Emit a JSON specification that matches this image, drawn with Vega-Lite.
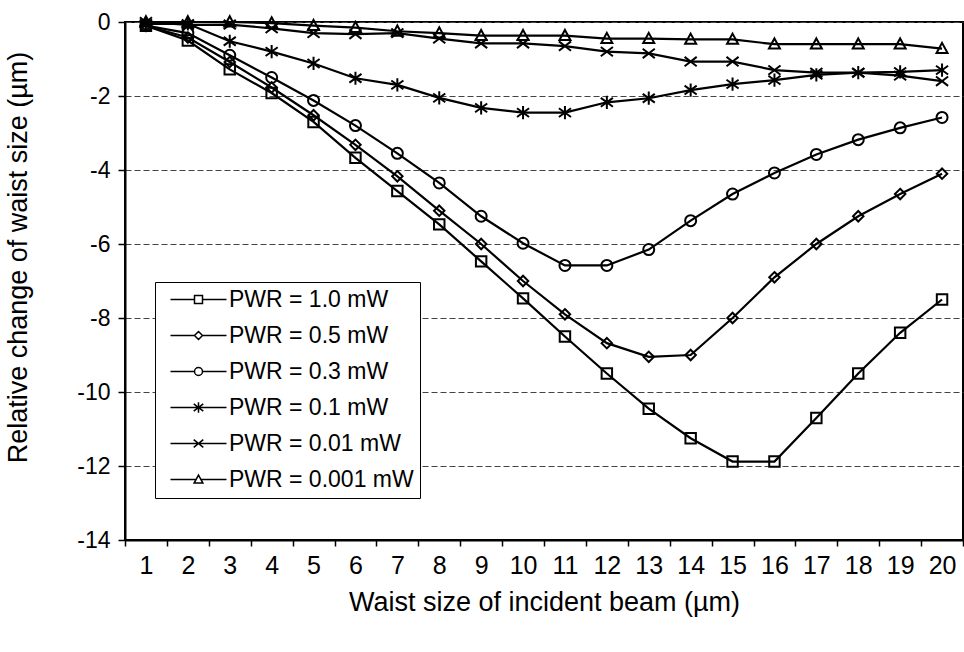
{
  "$schema": "https://vega.github.io/schema/vega-lite/v6.json",
  "width": 838,
  "height": 518,
  "autosize": "none",
  "padding": {"left": 125, "top": 22, "right": 1, "bottom": 112},
  "background": "white",
  "config": {
    "font": "Liberation Sans",
    "view": {"stroke": "black", "strokeWidth": 2}
  },
  "datasets": {
    "curves": [
      {"p":"PWR = 1.0 mW","x":1,"y":-0.1},{"p":"PWR = 1.0 mW","x":2,"y":-0.5},{"p":"PWR = 1.0 mW","x":3,"y":-1.28},{"p":"PWR = 1.0 mW","x":4,"y":-1.92},{"p":"PWR = 1.0 mW","x":5,"y":-2.7},{"p":"PWR = 1.0 mW","x":6,"y":-3.67},{"p":"PWR = 1.0 mW","x":7,"y":-4.57},{"p":"PWR = 1.0 mW","x":8,"y":-5.47},{"p":"PWR = 1.0 mW","x":9,"y":-6.47},{"p":"PWR = 1.0 mW","x":10,"y":-7.47},{"p":"PWR = 1.0 mW","x":11,"y":-8.5},{"p":"PWR = 1.0 mW","x":12,"y":-9.5},{"p":"PWR = 1.0 mW","x":13,"y":-10.45},{"p":"PWR = 1.0 mW","x":14,"y":-11.25},{"p":"PWR = 1.0 mW","x":15,"y":-11.88},{"p":"PWR = 1.0 mW","x":16,"y":-11.88},{"p":"PWR = 1.0 mW","x":17,"y":-10.7},{"p":"PWR = 1.0 mW","x":18,"y":-9.5},{"p":"PWR = 1.0 mW","x":19,"y":-8.4},{"p":"PWR = 1.0 mW","x":20,"y":-7.5},
      {"p":"PWR = 0.5 mW","x":1,"y":-0.1},{"p":"PWR = 0.5 mW","x":2,"y":-0.42},{"p":"PWR = 0.5 mW","x":3,"y":-1.08},{"p":"PWR = 0.5 mW","x":4,"y":-1.77},{"p":"PWR = 0.5 mW","x":5,"y":-2.52},{"p":"PWR = 0.5 mW","x":6,"y":-3.32},{"p":"PWR = 0.5 mW","x":7,"y":-4.17},{"p":"PWR = 0.5 mW","x":8,"y":-5.1},{"p":"PWR = 0.5 mW","x":9,"y":-6.0},{"p":"PWR = 0.5 mW","x":10,"y":-7.0},{"p":"PWR = 0.5 mW","x":11,"y":-7.9},{"p":"PWR = 0.5 mW","x":12,"y":-8.68},{"p":"PWR = 0.5 mW","x":13,"y":-9.05},{"p":"PWR = 0.5 mW","x":14,"y":-9.0},{"p":"PWR = 0.5 mW","x":15,"y":-8.0},{"p":"PWR = 0.5 mW","x":16,"y":-6.9},{"p":"PWR = 0.5 mW","x":17,"y":-6.0},{"p":"PWR = 0.5 mW","x":18,"y":-5.25},{"p":"PWR = 0.5 mW","x":19,"y":-4.65},{"p":"PWR = 0.5 mW","x":20,"y":-4.1},
      {"p":"PWR = 0.3 mW","x":1,"y":-0.1},{"p":"PWR = 0.3 mW","x":2,"y":-0.3},{"p":"PWR = 0.3 mW","x":3,"y":-0.9},{"p":"PWR = 0.3 mW","x":4,"y":-1.5},{"p":"PWR = 0.3 mW","x":5,"y":-2.12},{"p":"PWR = 0.3 mW","x":6,"y":-2.8},{"p":"PWR = 0.3 mW","x":7,"y":-3.55},{"p":"PWR = 0.3 mW","x":8,"y":-4.35},{"p":"PWR = 0.3 mW","x":9,"y":-5.25},{"p":"PWR = 0.3 mW","x":10,"y":-5.98},{"p":"PWR = 0.3 mW","x":11,"y":-6.58},{"p":"PWR = 0.3 mW","x":12,"y":-6.58},{"p":"PWR = 0.3 mW","x":13,"y":-6.15},{"p":"PWR = 0.3 mW","x":14,"y":-5.37},{"p":"PWR = 0.3 mW","x":15,"y":-4.65},{"p":"PWR = 0.3 mW","x":16,"y":-4.08},{"p":"PWR = 0.3 mW","x":17,"y":-3.58},{"p":"PWR = 0.3 mW","x":18,"y":-3.18},{"p":"PWR = 0.3 mW","x":19,"y":-2.86},{"p":"PWR = 0.3 mW","x":20,"y":-2.58},
      {"p":"PWR = 0.1 mW","x":1,"y":-0.05},{"p":"PWR = 0.1 mW","x":2,"y":-0.05},{"p":"PWR = 0.1 mW","x":3,"y":-0.52},{"p":"PWR = 0.1 mW","x":4,"y":-0.8},{"p":"PWR = 0.1 mW","x":5,"y":-1.12},{"p":"PWR = 0.1 mW","x":6,"y":-1.52},{"p":"PWR = 0.1 mW","x":7,"y":-1.7},{"p":"PWR = 0.1 mW","x":8,"y":-2.05},{"p":"PWR = 0.1 mW","x":9,"y":-2.32},{"p":"PWR = 0.1 mW","x":10,"y":-2.45},{"p":"PWR = 0.1 mW","x":11,"y":-2.45},{"p":"PWR = 0.1 mW","x":12,"y":-2.17},{"p":"PWR = 0.1 mW","x":13,"y":-2.06},{"p":"PWR = 0.1 mW","x":14,"y":-1.84},{"p":"PWR = 0.1 mW","x":15,"y":-1.68},{"p":"PWR = 0.1 mW","x":16,"y":-1.57},{"p":"PWR = 0.1 mW","x":17,"y":-1.43},{"p":"PWR = 0.1 mW","x":18,"y":-1.37},{"p":"PWR = 0.1 mW","x":19,"y":-1.35},{"p":"PWR = 0.1 mW","x":20,"y":-1.3},
      {"p":"PWR = 0.01 mW","x":1,"y":0},{"p":"PWR = 0.01 mW","x":2,"y":-0.08},{"p":"PWR = 0.01 mW","x":3,"y":-0.07},{"p":"PWR = 0.01 mW","x":4,"y":-0.17},{"p":"PWR = 0.01 mW","x":5,"y":-0.3},{"p":"PWR = 0.01 mW","x":6,"y":-0.33},{"p":"PWR = 0.01 mW","x":7,"y":-0.3},{"p":"PWR = 0.01 mW","x":8,"y":-0.45},{"p":"PWR = 0.01 mW","x":9,"y":-0.58},{"p":"PWR = 0.01 mW","x":10,"y":-0.58},{"p":"PWR = 0.01 mW","x":11,"y":-0.65},{"p":"PWR = 0.01 mW","x":12,"y":-0.8},{"p":"PWR = 0.01 mW","x":13,"y":-0.85},{"p":"PWR = 0.01 mW","x":14,"y":-1.07},{"p":"PWR = 0.01 mW","x":15,"y":-1.07},{"p":"PWR = 0.01 mW","x":16,"y":-1.3},{"p":"PWR = 0.01 mW","x":17,"y":-1.37},{"p":"PWR = 0.01 mW","x":18,"y":-1.37},{"p":"PWR = 0.01 mW","x":19,"y":-1.45},{"p":"PWR = 0.01 mW","x":20,"y":-1.6},
      {"p":"PWR = 0.001 mW","x":1,"y":0},{"p":"PWR = 0.001 mW","x":2,"y":0},{"p":"PWR = 0.001 mW","x":3,"y":0},{"p":"PWR = 0.001 mW","x":4,"y":-0.03},{"p":"PWR = 0.001 mW","x":5,"y":-0.1},{"p":"PWR = 0.001 mW","x":6,"y":-0.15},{"p":"PWR = 0.001 mW","x":7,"y":-0.25},{"p":"PWR = 0.001 mW","x":8,"y":-0.3},{"p":"PWR = 0.001 mW","x":9,"y":-0.37},{"p":"PWR = 0.001 mW","x":10,"y":-0.37},{"p":"PWR = 0.001 mW","x":11,"y":-0.37},{"p":"PWR = 0.001 mW","x":12,"y":-0.45},{"p":"PWR = 0.001 mW","x":13,"y":-0.45},{"p":"PWR = 0.001 mW","x":14,"y":-0.47},{"p":"PWR = 0.001 mW","x":15,"y":-0.47},{"p":"PWR = 0.001 mW","x":16,"y":-0.6},{"p":"PWR = 0.001 mW","x":17,"y":-0.6},{"p":"PWR = 0.001 mW","x":18,"y":-0.6},{"p":"PWR = 0.001 mW","x":19,"y":-0.6},{"p":"PWR = 0.001 mW","x":20,"y":-0.72}
    ]
  },
  "data": {"name": "curves"},
  "encoding": {
    "x": {
      "field": "x", "type": "ordinal", "bandPosition": 0.5,
      "scale": {"type": "band", "paddingInner": 0, "paddingOuter": 0},
      "axis": {
        "title": "Waist size of incident beam (\u00b5m)", "labelAngle": 0,
        "tickBand": "extent", "grid": false,
        "domainColor": "black", "domainWidth": 2, "tickColor": "black", "tickWidth": 1.5, "tickSize": 6,
        "labelFontSize": 25, "labelColor": "black", "labelPadding": 7,
        "titleFontSize": 27, "titleFontWeight": "normal", "titleColor": "black", "titlePadding": 11
      }
    },
    "y": {
      "field": "y", "type": "quantitative",
      "scale": {"domain": [-14, 0], "nice": false, "zero": false},
      "axis": {
        "title": "Relative change of waist size (\u00b5m)", "values": [-14, -12, -10, -8, -6, -4, -2, 0],
        "labelExpr": "replace(datum.label, '\u2212', '-')",
        "grid": true, "gridColor": "#444", "gridDash": [6, 3], "gridWidth": 1,
        "domainColor": "black", "domainWidth": 2, "tickColor": "black", "tickWidth": 1.5, "tickSize": 7,
        "labelFontSize": 23, "labelColor": "black", "labelPadding": 8,
        "titleFontSize": 27, "titleFontWeight": "normal", "titleColor": "black", "titlePadding": 44, "titleY": 235
      }
    }
  },
  "layer": [
    {
      "mark": {"type": "line", "color": "black", "strokeWidth": 2.2},
      "encoding": {"detail": {"field": "p"}}
    },
    {
      "mark": {"type": "point", "filled": false, "color": "black", "strokeWidth": 2, "size": 121, "opacity": 1},
      "encoding": {
        "shape": {
          "field": "p", "type": "nominal",
          "scale": {
            "domain": ["PWR = 1.0 mW", "PWR = 0.5 mW", "PWR = 0.3 mW", "PWR = 0.1 mW", "PWR = 0.01 mW", "PWR = 0.001 mW"],
            "range": [
              "M-0.95,-0.95H0.95V0.95H-0.95Z",
              "M0,-0.95L0.95,0L0,0.95L-0.95,0Z",
              "M-1,0A1,1 0 1,1 1,0A1,1 0 1,1 -1,0Z",
              "M-1.1,-0.8L1.1,0.8M-1.1,0.8L1.1,-0.8M0,-1.2V1.2",
              "M-1.1,-0.85L1.1,0.85M-1.1,0.85L1.1,-0.85",
              "M0,-1.05L1,0.8H-1Z"
            ]
          },
          "legend": null
        }
      }
    },
    {
      "transform": [{"filter": "datum.x > 100"}],
      "mark": {"type": "point", "filled": false, "color": "black", "strokeWidth": 1.5, "size": 64, "opacity": 1},
      "encoding": {
        "shape": {
          "field": "p", "type": "nominal",
          "scale": {
            "domain": ["PWR = 1.0 mW", "PWR = 0.5 mW", "PWR = 0.3 mW", "PWR = 0.1 mW", "PWR = 0.01 mW", "PWR = 0.001 mW"],
            "range": [
              "M-7,0H-1M1,0H7M-1,-1H1V1H-1Z",
              "M-7,0H-1M1,0H7M0,-1L1,0L0,1L-1,0Z",
              "M-7,0H-1M1,0H7M-1,0A1,1 0 1,1 1,0A1,1 0 1,1 -1,0Z",
              "M-7,0H7M-1.2,-0.9L1.2,0.9M-1.2,0.9L1.2,-0.9M0,-1.3V1.3",
              "M-7,0H7M-1.2,-0.95L1.2,0.95M-1.2,0.95L1.2,-0.95",
              "M-7,0H-0.5M0.5,0H7M0,-1.1L1.1,0.9H-1.1Z"
            ]
          },
          "legend": {
            "title": null, "orient": "none", "legendX": 30, "legendY": 260,
            "strokeColor": "black", "fillColor": "white", "padding": 6, "cornerRadius": 0,
            "symbolSize": 64, "symbolStrokeWidth": 1.5, "symbolStrokeColor": "black", "symbolOpacity": 1, "symbolOffset": 26,
            "labelOffset": 19, "labelFontSize": 23, "labelColor": "black", "labelLimit": 400, "rowPadding": 12
          }
        }
      }
    }
  ],
  "resolve": {"scale": {"shape": "independent"}, "legend": {"shape": "independent"}}
}
